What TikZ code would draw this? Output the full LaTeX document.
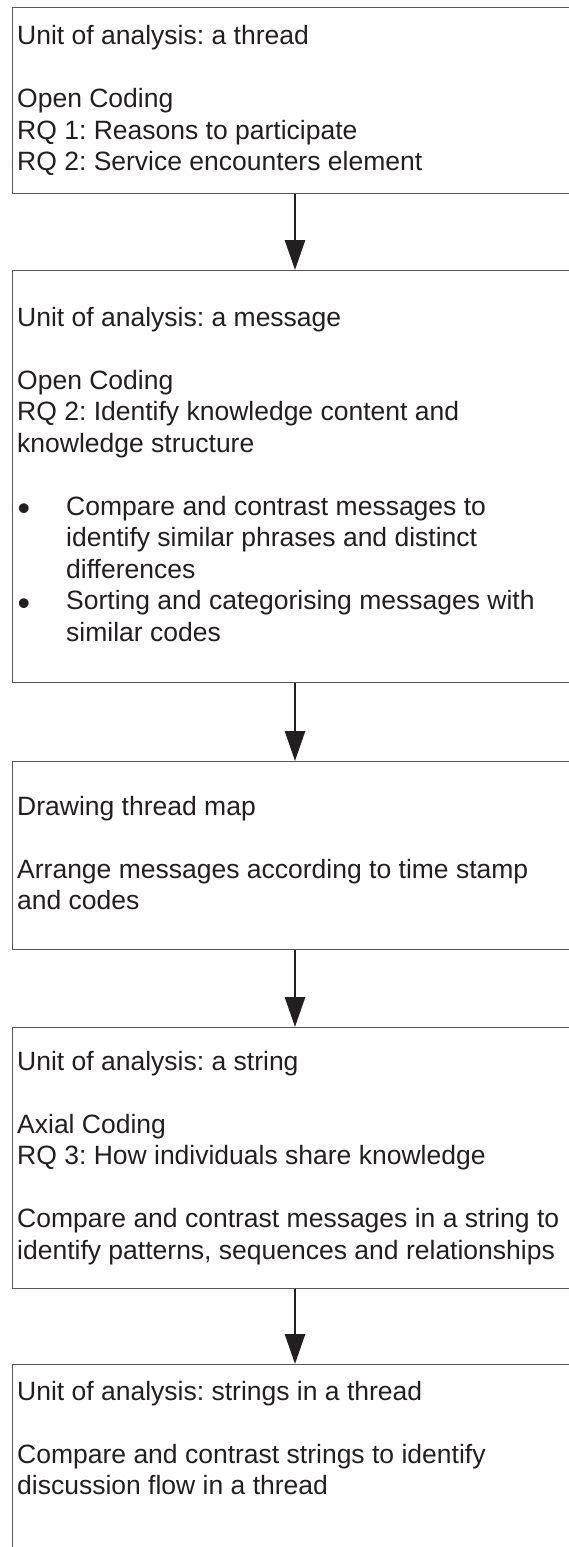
\documentclass[tikz,border=0pt]{standalone}
\usepackage{fontspec}
\usepackage{graphicx}
\setmainfont{Liberation Sans}
\usetikzlibrary{arrows.meta}
\definecolor{ink}{HTML}{231F20}
\definecolor{frame}{HTML}{555555}
\frenchspacing
% list bullet, a little heavier than the font's own
\newcommand{\itemdot}{\makebox[49pt][l]{\hspace*{0.5pt}\raisebox{-5.5pt}{\scalebox{1.35}{•}}}}
\begin{document}
\begin{tikzpicture}[x=1pt,y=-1pt,
  box/.style={rectangle, draw=frame, line width=1.1pt, anchor=north west,
    minimum width=640pt, inner sep=0pt},
  txt/.style={anchor=north west, inner sep=0pt, align=left, text=ink,
    font=\fontsize{26.5}{31.5}\selectfont},
  flow/.style={draw=ink, line width=2.7pt,
    -{Triangle[length=30pt,width=20pt]}}]
\useasboundingbox (0,0) rectangle (569,1547);
\clip (0,0) rectangle (569,1547);
\coordinate (axis) at (295,0);

% stage frames
\node[box, minimum height=186pt] (b1) at (12,7) {};
\node[box, minimum height=412pt] (b2) at (12,270) {};
\node[box, minimum height=188pt] (b3) at (12,761) {};
\node[box, minimum height=261pt] (b4) at (12,1027) {};
\node[box, minimum height=236pt] (b5) at (12,1364) {};

% stage texts (top = first baseline - strut height)
\node[txt] (t1) at (17,22.45) {\strut Unit of analysis: a thread\\ \strut\\
  \strut Open Coding\\ \strut RQ 1: Reasons to participate\\
  \strut RQ 2: Service encounters element};
\node[txt] (t2) at (17,303.95) {\strut Unit of analysis: a message\\ \strut\\
  \strut Open Coding\\ \strut RQ 2: Identify knowledge content and\\
  \strut knowledge structure\\ \strut\\
  \strut\itemdot Compare and contrast messages to\\
  \strut\hspace*{49pt}identify similar phrases and distinct\\
  \strut\hspace*{49pt}differences\\
  \strut\itemdot Sorting and categorising messages with\\
  \strut\hspace*{49pt}similar codes};
\node[txt] (t3) at (17,792.95) {\strut Drawing thread map\\ \strut\\
  \strut Arrange messages according to time stamp\\ \strut and codes};
\node[txt] (t4) at (17,1047.95) {\strut Unit of analysis: a string\\ \strut\\
  \strut Axial Coding\\ \strut RQ 3: How individuals share knowledge\\ \strut\\
  \strut Compare and contrast messages in a string to\\
  \strut identify patterns, sequences and relationships};
\node[txt] (t5) at (17,1377.95) {\strut Unit of analysis: strings in a thread\\ \strut\\
  \strut Compare and contrast strings to identify\\
  \strut discussion flow in a thread};

% flow arrows between stages
\draw[flow] (b1.south -| axis) -- (b2.north -| axis);
\draw[flow] (b2.south -| axis) -- (b3.north -| axis);
\draw[flow] (b3.south -| axis) -- (b4.north -| axis);
\draw[flow] (b4.south -| axis) -- (b5.north -| axis);
\end{tikzpicture}
\end{document}
